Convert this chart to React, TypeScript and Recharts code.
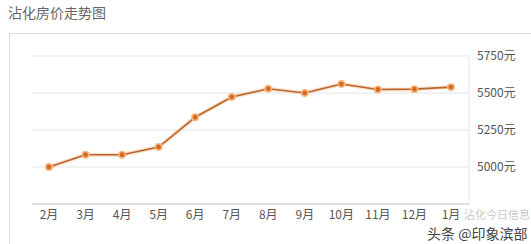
import React from 'react';
import { LineChart, Line, XAxis, YAxis, CartesianGrid } from 'recharts';

const months = ['2月', '3月', '4月', '5月', '6月', '7月', '8月', '9月', '10月', '11月', '12月', '1月'];
const prices = [5000, 5083, 5083, 5135, 5336, 5473, 5529, 5500, 5561, 5524, 5526, 5540];
const yTicks = [4750, 5000, 5250, 5500, 5750];

const data = months.map((m, i) => ({ month: m, price: prices[i] }));

const App: React.FC = () => {
  return (
    <div
      style={{
        position: 'absolute',
        left: 0,
        top: 0,
        width: 531,
        height: 244,
        background: '#fff',
        overflow: 'hidden',
        fontFamily: '"Noto Sans CJK SC", "Noto Sans", sans-serif',
      }}
    >
      <div style={{ position: 'absolute', left: 8, top: 2, fontSize: 14, color: '#666' }}>沾化房价走势图</div>
      {/* frame */}
      <div
        style={{
          position: 'absolute',
          left: 9,
          top: 33,
          width: 540,
          height: 240,
          borderTop: '1px solid #dcdcdc',
          borderLeft: '1px solid #dcdcdc',
        }}
      />
      <div style={{ position: 'absolute', left: 0, top: 0 }}>
        <LineChart width={531} height={244} data={data} margin={{ top: 56, right: 0, bottom: 10, left: 32 }}>
          <CartesianGrid vertical={false} stroke="#e6e6e6" strokeWidth={1.2} />
          <XAxis
            dataKey="month"
            height={30}
            padding={{ left: 17, right: 18 }}
            axisLine={{ stroke: '#dedede', strokeWidth: 2 }}
            tickLine={false}
            tickMargin={0}
            interval={0}
            tick={{ fontSize: 12, fill: '#555' }}
          />
          <YAxis
            orientation="right"
            width={62}
            domain={[4750, 5750]}
            ticks={yTicks}
            axisLine={{ stroke: '#e6e6e6' }}
            tickLine={false}
            tickFormatter={(v: number) => (v === 4750 ? '' : `${v}元`)}
            tick={{ fontSize: 12, fill: '#555' }}
          />
          <Line
            dataKey="price"
            stroke="#f8cba5"
            strokeWidth={4}
            strokeOpacity={0.6}
            dot={false}
            activeDot={false}
            isAnimationActive={false}
          />
          <Line
            dataKey="price"
            stroke="#b8652e"
            strokeWidth={1.6}
            dot={{ r: 3.2, fill: '#d8691f', stroke: '#f6b882', strokeWidth: 1.5 }}
            isAnimationActive={false}
          />
        </LineChart>
      </div>
      {/* watermark */}
      <div style={{ position: 'absolute', left: 464, top: 207, fontSize: 11, color: '#c8c8c8', lineHeight: '14px' }}>
        沾化今日信息
      </div>
      <div
        style={{
          position: 'absolute',
          left: 427,
          top: 224,
          fontSize: 14,
          lineHeight: '18px',
          color: '#444',
          textShadow: '0 0 2px #fff, 0 0 2px #fff',
        }}
      >
        头条 @印象滨部
      </div>
    </div>
  );
};

export default App;
